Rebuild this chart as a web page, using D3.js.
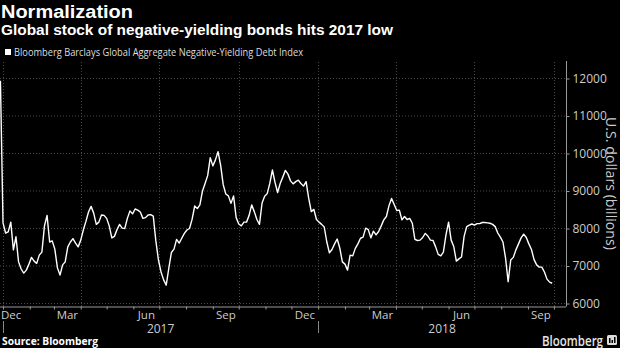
<!DOCTYPE html>
<html><head><meta charset="utf-8">
<script src="https://cdn.jsdelivr.net/npm/d3@7/dist/d3.min.js"></script>
<style>html,body{margin:0;padding:0;background:#000;}svg{display:block;}</style>
</head><body>
<script>
// ---- data ----
const title = "Normalization";
const subtitle = "Global stock of negative-yielding bonds hits 2017 low";
const legendLabel = "Bloomberg Barclays Global Aggregate Negative-Yielding Debt Index";
const yAxisTitle = "U.S. dollars (billions)";
const sourceText = "Source: Bloomberg";
const startDate = "2016-12-29";   // first observation
const stepDays = 3;               // spacing between observations
const values = [
 11940,8150,7880,7910,8170,7430,7780,7110,6920,6810,
 6890,7050,7230,7130,7070,7290,7370,8070,8350,7640,
 7670,7450,6950,6760,7030,7110,7510,7640,7730,7610,
 7510,7690,7960,8190,8440,8590,8410,8110,8170,8360,
 8350,8270,8070,7750,7790,7970,8110,8010,8000,8270,
 8470,8390,8520,8490,8440,8270,8290,8360,8370,8330,
 7670,7160,6840,6630,6490,6940,7360,7450,7710,7610,
 7740,7870,7960,8000,8250,8600,8530,8630,9000,9200,
 9410,9890,9670,9830,10050,9690,9170,8920,8870,8670,
 8870,8290,8120,8070,8170,8170,8350,8630,8450,8240,
 8110,8680,8860,8930,9210,9560,9230,8960,9200,9370,
 9550,9450,9270,9190,9250,9290,9200,9130,9250,8810,
 8450,8510,8240,8170,8110,8040,7640,7350,7440,7590,
 7720,7480,7110,7050,6890,7290,7270,7470,7590,7740,
 7770,8010,7970,7750,7930,7830,7920,8070,8230,8320,
 8610,8800,8640,8480,8490,8230,8320,8240,8270,8140,
 7710,7680,7690,7760,7870,7800,7690,7680,7510,7310,
 7270,7370,7830,8170,7690,7520,7130,7190,7240,7790,
 8050,8090,8120,8090,8130,8130,8160,8160,8150,8140,
 8110,8050,7880,7770,7640,7210,6580,7160,7230,7430,
 7590,7750,7850,7760,7590,7440,7170,7030,6970,6970,
 6840,6650,6570,6540
];
const yTicks = [6000,7000,8000,9000,10000,11000,12000];
const monthLabels = [
  {month:"2016-12-01", label:"Dec"},{month:"2017-03-01", label:"Mar"},
  {month:"2017-06-01", label:"Jun"},{month:"2017-09-01", label:"Sep"},
  {month:"2017-12-01", label:"Dec"},{month:"2018-03-01", label:"Mar"},
  {month:"2018-06-01", label:"Jun"},{month:"2018-09-01", label:"Sep"}
];
const yearLabels = [{year:"2017", start:"2017-01-01", end:"2018-01-01"},
                    {year:"2018", start:"2018-01-01", end:"2019-01-01"}];
const gridDates = ["2017-01-01","2017-04-01","2017-07-01","2017-10-01",
                   "2018-01-01","2018-04-01","2018-07-01","2018-10-01"];
const domainStart = "2016-12-28T12:00:00Z";
const domainEnd = "2018-10-15T00:00:00Z";

// ---- build ----
const W = 620, H = 348;
const plot = {left:0, right:566, top:62, bottom:306.5};
const parse = d3.utcParse("%Y-%m-%d");
const t0 = parse(startDate);
const series = values.map((v,i)=>({date:d3.utcDay.offset(t0, i*stepDays), value:v}));

const svg = d3.select("body").append("svg").attr("width",W).attr("height",H)
  .style("background","#000");
svg.append("rect").attr("width",W).attr("height",H).attr("fill","#000");

const x = d3.scaleUtc().domain([new Date(domainStart), new Date(domainEnd)]).range([plot.left, plot.right]);
const y = d3.scaleLinear().domain([5920, 12440]).range([plot.bottom, plot.top]);

const FONT = "'Open Sans', 'DejaVu Sans', sans-serif";
const TFONT = "'Liberation Sans', Arial, sans-serif";

// titles
svg.append("text").attr("x",1).attr("y",18).text(title)
  .attr("fill","#fff").attr("font-family",TFONT).attr("font-weight","bold")
  .attr("font-size",18).attr("textLength",132).attr("lengthAdjust","spacingAndGlyphs");
svg.append("text").attr("x",1).attr("y",35).text(subtitle)
  .attr("fill","#fff").attr("font-family",TFONT).attr("font-weight","bold")
  .attr("font-size",14).attr("textLength",392).attr("lengthAdjust","spacingAndGlyphs");
svg.append("rect").attr("x",5).attr("y",49).attr("width",6).attr("height",6).attr("fill","#fff");
svg.append("text").attr("x",14).attr("y",55.5).text(legendLabel)
  .attr("fill","#ddd").attr("font-family",FONT).attr("font-size",10.5)
  .attr("textLength",289).attr("lengthAdjust","spacingAndGlyphs");

// grid
const grid = svg.append("g");
grid.selectAll("line.h").data(yTicks).join("line")
  .attr("x1",plot.left).attr("x2",plot.right)
  .attr("y1",d=>y(d)).attr("y2",d=>y(d))
  .attr("stroke","#4a4a4a").attr("stroke-width",1).attr("stroke-dasharray","1,2");
grid.selectAll("line.v").data(gridDates.map(parse)).join("line")
  .attr("x1",d=>Math.round(x(d))+0.5).attr("x2",d=>Math.round(x(d))+0.5)
  .attr("y1",plot.top).attr("y2",plot.bottom)
  .attr("stroke","#4a4a4a").attr("stroke-width",1).attr("stroke-dasharray","1,2");

// right y axis
const yAxis = d3.axisRight(y).tickValues(yTicks).tickSize(3).tickPadding(3).tickFormat(d3.format("d"));
const gy = svg.append("g").attr("transform",`translate(${plot.right+0.5},0)`).call(yAxis);
gy.select(".domain").attr("stroke","#999").attr("d",`M0,${plot.top-1}V${plot.bottom}`);
gy.selectAll(".tick line").attr("stroke","#999");
gy.selectAll(".tick text").attr("fill","#ccc").attr("font-family",FONT).attr("font-size",12);

svg.append("text").attr("transform",`translate(606,${(117+250)/2}) rotate(90)`)
  .attr("text-anchor","middle").text(yAxisTitle)
  .attr("fill","#ccc").attr("font-family",FONT).attr("font-size",14.5)
  .attr("textLength",133).attr("lengthAdjust","spacingAndGlyphs");

// bottom axis: monthly ticks
const months = d3.utcMonth.range(new Date(domainStart), new Date(domainEnd));
const xAxis = d3.axisBottom(x).tickValues(months).tickSize(3).tickFormat("");
const gx = svg.append("g").attr("transform",`translate(0,${plot.bottom})`).call(xAxis);
gx.select(".domain").attr("stroke","#999").attr("d",`M${plot.left},0.5H${plot.right}`);
gx.selectAll(".tick line").attr("stroke","#999");

// month labels centered in month, clamped to plot
svg.append("g").selectAll("text").data(monthLabels).join("text")
  .each(function(d){
    const s = parse(d.month), e = d3.utcMonth.offset(s,1);
    const cx = (x(s)+x(e))/2;
    const el = d3.select(this);
    if (x(s) < plot.left) { el.attr("x",plot.left+1).attr("text-anchor","start"); }
    else { el.attr("x",cx).attr("text-anchor","middle"); }
  })
  .attr("y",318.5).text(d=>d.label)
  .attr("fill","#ccc").attr("font-family",FONT).attr("font-size",11.5);

// year labels centered in visible part of year
svg.append("g").selectAll("text").data(yearLabels).join("text")
  .attr("x",d=>{
    const a = Math.max(x(parse(d.start)), plot.left), b = Math.min(x(parse(d.end)), plot.right);
    return (a+b)/2;
  })
  .attr("y",333).attr("text-anchor","middle").text(d=>d.year)
  .attr("fill","#ccc").attr("font-family",FONT).attr("font-size",12);
svg.append("g").selectAll("line").data(yearLabels.map(d=>parse(d.start))).join("line")
  .attr("x1",d=>Math.round(x(d))+0.5).attr("x2",d=>Math.round(x(d))+0.5)
  .attr("y1",321).attr("y2",333).attr("stroke","#888");

// line
const line = d3.line().x(d=>x(d.date)).y(d=>y(d.value));
svg.append("path").datum(series).attr("d",line)
  .attr("fill","none").attr("stroke","#fff").attr("stroke-width",1.4)
  .attr("stroke-linejoin","round");

// footer
svg.append("text").attr("x",2).attr("y",345).text(sourceText)
  .attr("fill","#fff").attr("font-family",FONT).attr("font-weight","bold").attr("font-size",11)
  .attr("textLength",96).attr("lengthAdjust","spacingAndGlyphs");
svg.append("text").attr("x",542).attr("y",345.5).text("Bloomberg")
  .attr("fill","#e6e6e6").attr("font-family",FONT).attr("font-weight","600").attr("font-size",14)
  .attr("textLength",61).attr("lengthAdjust","spacingAndGlyphs");
const logo = svg.append("g").attr("transform","translate(607,335)");
logo.append("rect").attr("width",10).attr("height",10).attr("rx",1.5).attr("fill","#ddd");
[[2,5],[4.5,3],[7,6]].forEach(([bx,bh])=>{
  logo.append("rect").attr("x",bx).attr("y",8-bh).attr("width",1.5).attr("height",bh).attr("fill","#000");
});
</script>
</body></html>
